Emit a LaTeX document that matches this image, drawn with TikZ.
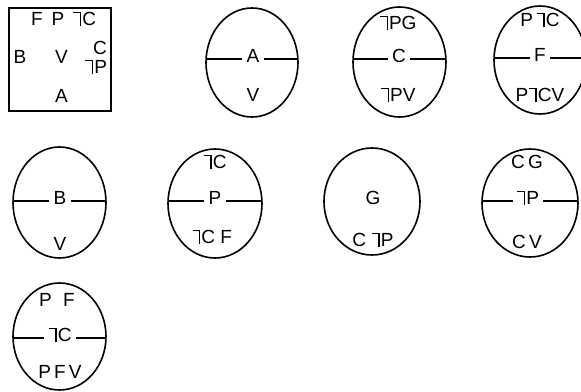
\documentclass[tikz,border=0pt]{standalone}
\usepackage{fontspec}
\setmainfont{Liberation Sans}
\usetikzlibrary{shapes.geometric}
\newcommand\negsym{\kern0.03em\rlap{\rule[0.64em]{0.42em}{0.08em}}\kern0.34em\rule{0.08em}{0.715em}\kern0.05em}
\tikzset{
  lbl/.style={inner sep=0pt, text height=0.72em, text depth=0pt, font=\fontsize{19}{22}\selectfont},
  mid/.style={lbl, inner xsep=4pt},
  ell/.style={draw, ellipse, line width=1.6pt, inner sep=0pt, outer sep=0pt},
  cut/.style={line width=1.6pt},
  frame/.style={draw, rectangle, line width=1.6pt, inner sep=0pt}
}
\begin{document}
\begin{tikzpicture}[x=1pt, y=-1pt]
\useasboundingbox (0,0) rectangle (581,391);
% box
\node[frame, minimum width=102pt, minimum height=103pt] (box) at (60,59.5) {};
\node[lbl] (bF) at (37,22) {F};
\node[lbl] (bP) at (58,22) {P};
\node[lbl] (bnC) at (84.5,22) {\negsym C};
\node[lbl] (bB) at (20,60) {B};
\node[lbl] (bV) at (61.5,60) {V};
\node[lbl] (bC) at (100,51) {C};
\node[lbl] (bnP) at (96,70) {\negsym P};
\node[lbl] (bA) at (61.5,99) {A};
% A
\node[ell, minimum width=92pt, minimum height=109pt] (eA) at (252,62.5) {};
\node[mid] (lA) at (253,59) {A};
\node[lbl] (tA2) at (253,98) {V};
\draw[cut] (eA.west |- lA) -- (lA.west) (lA.east) -- (eA.east |- lA);
% C
\node[ell, minimum width=93pt, minimum height=110pt] (eC) at (399.5,62) {};
\node[mid] (lC) at (399,59) {C};
\node[lbl] (tC1) at (398,26) {\negsym PG};
\node[lbl] (tC2) at (398,98) {\negsym PV};
\draw[cut] (eC.west |- lC) -- (lC.west) (lC.east) -- (eC.east |- lC);
% F
\node[ell, minimum width=92pt, minimum height=108pt] (eF) at (540,60) {};
\node[mid] (lF) at (540,58) {F};
\node[lbl] (tF1) at (540,23) {P\,\negsym C};
\node[lbl] (tF2) at (540,98) {P\negsym CV};
\draw[cut] (eF.west |- lF) -- (lF.west) (lF.east) -- (eF.east |- lF);
% B
\node[ell, minimum width=93pt, minimum height=111pt] (eB) at (59.5,202.5) {};
\node[mid] (lB) at (60,201) {B};
\node[lbl] (tB2) at (60,247) {V};
\draw[cut] (eB.west |- lB) -- (lB.west) (lB.east) -- (eB.east |- lB);
% P
\node[ell, minimum width=94pt, minimum height=109pt] (eP) at (215,203.5) {};
\node[mid] (lP) at (215,201) {P};
\node[lbl] (tP1) at (215,165) {\negsym C};
\node[lbl] (tP2) at (212,240) {\negsym C F};
\draw[cut] (eP.west |- lP) -- (lP.west) (lP.east) -- (eP.east |- lP);
% G
\node[ell, minimum width=96pt, minimum height=107pt] (eG) at (372,201.5) {};
\node[lbl] (lG) at (373,201) {G};
\node[lbl] (tG2) at (373,243) {C \negsym P};
% not P
\node[ell, minimum width=96pt, minimum height=108pt] (enP) at (530,203) {};
\node[mid] (lnP) at (528,201) {\negsym P};
\node[lbl] (tnP1) at (527,165) {C\,G};
\node[lbl] (tnP2) at (527,245) {C\,V};
\draw[cut] (enP.west |- lnP) -- (lnP.west) (lnP.east) -- (enP.east |- lnP);
% not C
\node[ell, minimum width=93pt, minimum height=107pt] (enC) at (59.5,336.5) {};
\node[mid] (lnC) at (60,338) {\negsym C};
\node[lbl] (tnC1) at (57,303) {P\hspace{0.6em}F};
\node[lbl] (tnC2) at (60,375) {P\,F\,V};
\draw[cut] (enC.west |- lnC) -- (lnC.west) (lnC.east) -- (enC.east |- lnC);
\end{tikzpicture}
\end{document}
